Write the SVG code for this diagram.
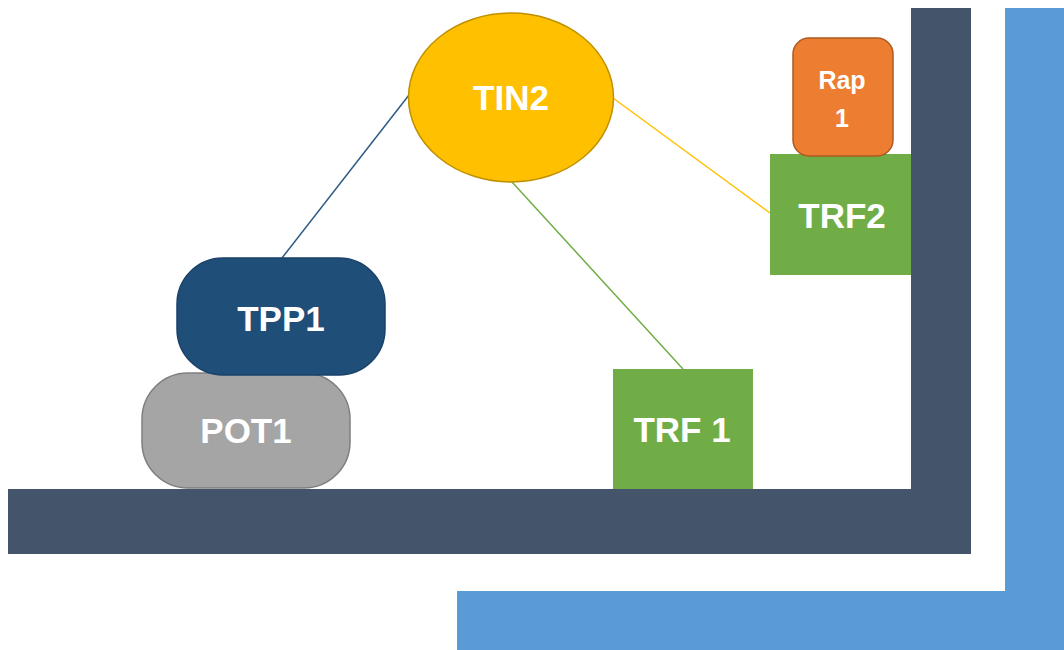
<svg xmlns="http://www.w3.org/2000/svg" width="1064" height="650" viewBox="0 0 1064 650">
  <style>
    .lbl { font-family: "Liberation Sans", Arial, sans-serif; font-weight: bold; fill: #ffffff; text-anchor: middle; }
    .big { font-size: 35px; }
    .small { font-size: 25px; }
    .link { fill: none; stroke-width: 1.5; }
  </style>

  <rect x="0" y="0" width="1064" height="650" fill="#ffffff"/>

  <!-- outer blue wall -->
  <g id="outer-wall" fill="#5B9BD5">
    <rect x="1005" y="8" width="59" height="642"/>
    <rect x="457" y="591" width="607" height="59"/>
  </g>

  <!-- inner dark wall -->
  <g id="inner-wall" fill="#44546A">
    <rect x="911" y="8" width="60" height="546"/>
    <rect x="8" y="489" width="963" height="65"/>
  </g>

  <!-- connectors -->
  <g id="connectors">
    <line class="link" x1="409" y1="95" x2="282" y2="258" stroke="#2E5A87"/>
    <line class="link" x1="512" y1="182" x2="683" y2="369" stroke="#70AD47"/>
    <line class="link" x1="613" y1="98" x2="770" y2="213" stroke="#FFC000"/>
  </g>

  <g id="pot1">
    <rect x="142" y="373" width="208" height="115" rx="46" ry="46" fill="#A5A5A5" stroke="#7F7F7F" stroke-width="1.5"/>
    <text class="lbl big" x="246" y="443">POT1</text>
  </g>

  <g id="tpp1">
    <rect x="177" y="258" width="208" height="117" rx="46" ry="46" fill="#1F4E79" stroke="#1A4268" stroke-width="1.5"/>
    <text class="lbl big" x="281" y="331">TPP1</text>
  </g>

  <g id="trf1">
    <rect x="613" y="369" width="140" height="120" fill="#70AD47"/>
    <text class="lbl big" x="682" y="442">TRF 1</text>
  </g>

  <g id="trf2">
    <rect x="770" y="154" width="141" height="121" fill="#70AD47"/>
    <text class="lbl big" x="842" y="228">TRF2</text>
  </g>

  <g id="rap1">
    <rect x="793" y="38" width="100" height="118" rx="16" ry="16" fill="#ED7D31" stroke="#AE5A21" stroke-width="1.5"/>
    <text class="lbl small" x="842" y="89">Rap</text>
    <text class="lbl small" x="842" y="127">1</text>
  </g>

  <g id="tin2">
    <ellipse cx="511" cy="97.5" rx="102.5" ry="84.5" fill="#FFC000" stroke="#BF9000" stroke-width="1.5"/>
    <text class="lbl big" x="511" y="110">TIN2</text>
  </g>
</svg>
